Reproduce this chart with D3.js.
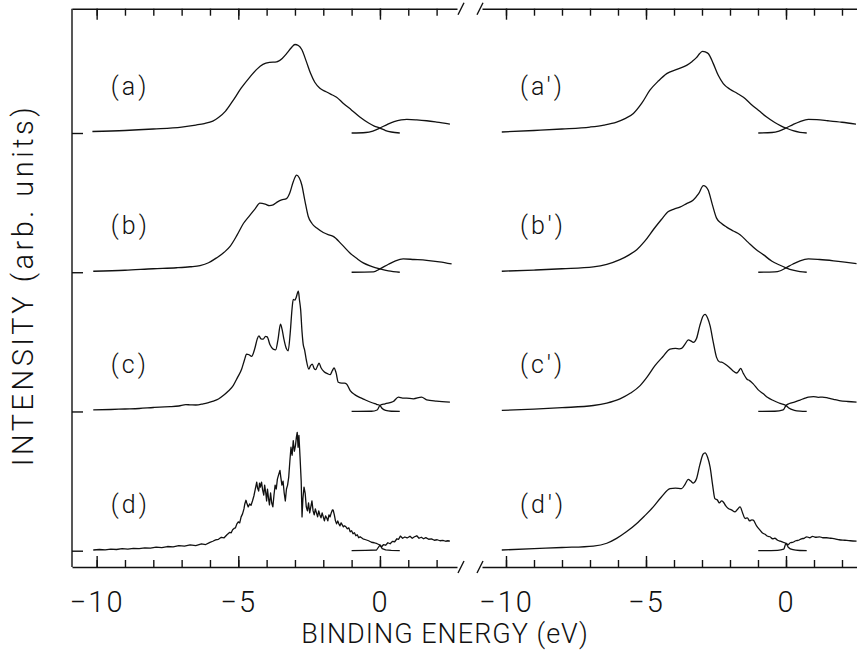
<!DOCTYPE html>
<html><head><meta charset="utf-8">
<script src="https://cdn.jsdelivr.net/npm/d3@7"></script>
<style>
body{margin:0;background:#fff;}
svg{display:block;}
text{font-family:Roboto,"Liberation Sans",sans-serif;font-weight:300;fill:#111;}
</style></head><body>
<svg id="c" width="857" height="652"></svg>
<script>
// ---------- data ----------
const energyTicks = [-10,-9,-8,-7,-6,-5,-4,-3,-2,-1,0,1,2];
const majorTicks = [-10,-5,0];
const tickLabels = ["\u221210","\u22125","0"];
const leftLabels = ["(a)","(b)","(c)","(d)"];
const rightLabels = ["(a')","(b')","(c')","(d')"];
const offsets = [420,280,140,0];

// left panel: main (occupied) curves  [energy eV, intensity]
const a_main = [[-10.15,1.5],[-9,2.5],[-8,4],[-7,6],[-6.5,8],[-6.2,9.5],[-5.9,12],[-5.7,15.5],[-5.45,22],[-5.2,32],[-4.9,45],[-4.6,56],[-4.35,64],[-4.13,69],[-3.9,71],[-3.65,71.5],[-3.45,75],[-3.29,80],[-3.12,86],[-3.0,89],[-2.88,88],[-2.76,84],[-2.6,72],[-2.45,60],[-2.3,51],[-2.12,45],[-1.9,41.5],[-1.7,38.5],[-1.53,36],[-1.3,30],[-1.0,23],[-0.71,16],[-0.4,10],[-0.2,7],[0,5],[0.2,2.5],[0.4,1],[0.7,0]];
const a_edge = [[-1.0,0],[-0.5,0.5],[-0.25,2],[0,5],[0.25,8.5],[0.5,11.5],[0.75,13.2],[0.95,13.7],[1.3,13.2],[1.65,12.3],[2.0,11],[2.47,9]];

const b_main = [[-10.12,1],[-9,2],[-8,3.5],[-7.18,4.5],[-6.7,5.5],[-6.35,6.7],[-6.05,9.5],[-5.77,14.4],[-5.5,20],[-5.29,26],[-5.05,37],[-4.82,49],[-4.6,57],[-4.4,64],[-4.24,69.4],[-4.05,68.5],[-3.9,67],[-3.77,67.7],[-3.6,71],[-3.47,72.7],[-3.3,74],[-3.18,80],[-3.06,91],[-2.94,97.7],[-2.85,95],[-2.76,88],[-2.65,72],[-2.53,56],[-2.4,49],[-2.23,44.4],[-2.0,40],[-1.8,37.5],[-1.65,36],[-1.35,28],[-1.06,19.4],[-0.8,13.5],[-0.59,9.4],[-0.3,6],[0,3.4],[0.3,1.3],[0.7,0]];
const b_edge = [[-1,0],[-0.23,0.3],[0,3.4],[0.3,8],[0.55,11.5],[0.82,13.4],[1.2,12.8],[1.65,12],[2.1,10.5],[2.53,8.4]];

const c_main = [[-10.12,1.5],[-9.5,2],[-9,2.5],[-8.5,3],[-8,4],[-7.77,4.4],[-7.4,4.8],[-7.1,5.5],[-6.85,6.8],[-6.71,6.7],[-6.5,6.5],[-6.24,7.7],[-6.05,9],[-5.88,10.4],[-5.7,12.5],[-5.53,16],[-5.35,20.5],[-5.18,26],[-5.03,34],[-4.88,42.7],[-4.78,52],[-4.71,57.7],[-4.62,57],[-4.53,55.4],[-4.42,63],[-4.33,73],[-4.27,76],[-4.2,73],[-4.12,72.7],[-4.04,75.5],[-3.98,75],[-3.88,67],[-3.77,62.7],[-3.68,62],[-3.6,72],[-3.51,87.7],[-3.45,82],[-3.39,72.7],[-3.3,63],[-3.24,61],[-3.17,78],[-3.1,104],[-3.06,112.7],[-3.0,112],[-2.96,114.4],[-2.88,121],[-2.84,112],[-2.8,102.7],[-2.75,80],[-2.71,67.7],[-2.66,62],[-2.6,52],[-2.51,42.7],[-2.45,46],[-2.39,47.7],[-2.32,43],[-2.27,42],[-2.2,46],[-2.15,48.7],[-2.08,44],[-1.97,40],[-1.85,38],[-1.76,37],[-1.68,41],[-1.62,43.7],[-1.55,39],[-1.47,29.4],[-1.35,28.5],[-1.25,28.5],[-1.18,27.7],[-1.05,21],[-0.88,16.7],[-0.7,14],[-0.58,12.5],[-0.47,11],[-0.3,9],[-0.12,7.2],[0,6],[0.08,3],[0.2,1],[0.4,0.2],[0.7,0]];
const c_edge = [[-1,0],[-0.3,0.2],[-0.1,1.5],[0,6],[0.18,7.7],[0.47,10],[0.65,14.4],[0.8,13.5],[0.94,13.4],[1.18,12.7],[1.47,14.4],[1.65,11.7],[2.0,10.4],[2.47,9.4]];

const d_main = [[-10.12,0.7],[-9.9,1.2],[-9.7,0.8],[-9.5,1.5],[-9.3,1.2],[-9.1,2],[-8.9,1.6],[-8.7,2.4],[-8.5,2.0],[-8.3,2.8],[-8.1,2.5],[-7.9,3.5],[-7.7,3.1],[-7.5,4.2],[-7.3,3.8],[-7.1,5.2],[-6.9,4.6],[-6.7,5.8],[-6.5,5.2],[-6.3,6.8],[-6.15,6.2],[-6.0,8.4],[-5.9,9.5],[-5.8,10.8],[-5.7,11.5],[-5.6,13.5],[-5.5,13],[-5.4,16],[-5.3,18.5],[-5.25,18],[-5.2,21],[-5.15,22.4],[-5.1,23],[-5.05,27],[-5.0,29],[-4.95,28],[-4.9,34],[-4.85,37],[-4.8,42],[-4.77,47],[-4.73,50.7],[-4.7,48],[-4.65,44],[-4.6,47],[-4.55,45.7],[-4.5,50],[-4.45,55],[-4.4,62],[-4.35,69],[-4.32,63],[-4.28,60],[-4.25,68],[-4.22,64],[-4.18,69],[-4.14,61],[-4.1,56],[-4.07,66],[-4.03,58],[-4.0,50],[-3.97,62],[-3.93,52],[-3.9,46],[-3.86,58],[-3.82,48],[-3.78,44],[-3.74,56],[-3.7,66],[-3.66,62],[-3.62,72],[-3.58,76],[-3.53,80.7],[-3.5,74],[-3.46,66],[-3.42,70],[-3.38,58],[-3.34,50],[-3.3,62],[-3.26,66],[-3.22,74],[-3.18,90],[-3.14,104],[-3.1,96],[-3.06,110.7],[-3.02,100],[-2.98,106],[-2.95,114],[-2.92,119],[-2.89,104],[-2.86,116],[-2.82,94],[-2.78,70],[-2.75,34],[-2.72,52],[-2.68,64],[-2.64,58],[-2.6,44],[-2.56,40],[-2.52,48],[-2.48,38],[-2.44,44],[-2.4,50],[-2.36,40],[-2.32,36],[-2.28,42],[-2.24,38],[-2.2,34],[-2.16,40],[-2.12,36],[-2.08,33],[-2.04,38],[-2.0,34],[-1.96,30],[-1.92,35],[-1.88,33],[-1.84,30],[-1.8,36],[-1.76,34],[-1.72,38],[-1.68,41],[-1.65,40.7],[-1.61,36],[-1.57,30],[-1.53,27],[-1.49,30],[-1.45,27],[-1.41,25],[-1.37,28],[-1.33,26],[-1.29,24],[-1.25,25],[-1.2,24],[-1.15,22],[-1.1,23],[-1.05,19],[-1.0,20],[-0.95,17],[-0.9,18],[-0.85,15],[-0.8,16],[-0.75,13],[-0.7,14],[-0.6,12],[-0.5,11],[-0.4,10],[-0.3,8.5],[-0.2,8],[-0.1,7],[0,5.7],[0.08,2],[0.2,0.8],[0.4,0.3],[0.7,0]];
const d_edge = [[-1,0],[-0.5,0.3],[-0.12,0.7],[0,5.7],[0.06,4],[0.12,6],[0.2,5.5],[0.28,8],[0.36,7],[0.44,9.4],[0.52,9],[0.6,12],[0.66,11.5],[0.72,14.7],[0.8,12.5],[0.88,13.8],[0.96,12.8],[1.06,14.5],[1.14,12.5],[1.22,14],[1.3,15],[1.38,12.5],[1.46,13.5],[1.54,12],[1.62,13.2],[1.72,11.5],[1.82,11.8],[1.92,10.5],[2.02,11],[2.12,10],[2.22,10.4],[2.32,9.5],[2.4,10],[2.47,9.7]];

// right panel
const ap_main = [[-10.15,1],[-9,2.5],[-8,4],[-7,6],[-6.5,8],[-6.05,11],[-5.75,14.5],[-5.45,19.7],[-5.15,30],[-4.86,43],[-4.55,52.5],[-4.26,59.7],[-3.9,64],[-3.55,68],[-3.35,72],[-3.19,76],[-3.08,80],[-2.98,82],[-2.88,81.5],[-2.77,79.7],[-2.6,70],[-2.42,58],[-2.24,49.7],[-2.0,44],[-1.75,40],[-1.52,36],[-1.25,29],[-0.95,22],[-0.69,16],[-0.4,10.5],[-0.2,7.5],[0,5],[0.25,2.3],[0.5,0.7],[0.74,0]];
const ap_edge = [[-0.99,0],[-0.5,0.5],[-0.25,2],[0,5],[0.25,8.5],[0.5,11.5],[0.8,13.7],[1.1,13.4],[1.5,12.3],[2.0,10.8],[2.5,9]];

const bp_main = [[-10.15,1],[-9,2.2],[-8,3.5],[-6.88,5.4],[-6.4,8],[-5.93,12.7],[-5.6,17.5],[-5.33,22.7],[-5.05,31],[-4.74,42.7],[-4.45,53],[-4.2,61],[-4.0,63.5],[-3.79,65.4],[-3.55,69],[-3.31,72.7],[-3.12,79],[-2.95,87],[-2.86,86],[-2.78,82.7],[-2.63,68],[-2.48,54.4],[-2.3,49],[-2.12,45.4],[-1.88,41.5],[-1.64,37.7],[-1.35,30],[-1.08,23],[-0.81,17.7],[-0.5,11],[-0.25,7.5],[0,4.4],[0.25,2],[0.5,0.6],[0.74,0]];
const bp_edge = [[-0.99,0],[-0.4,0.3],[-0.2,1.5],[0,4.4],[0.25,8.3],[0.5,11.5],[0.8,13.4],[1.2,12.8],[1.7,11.5],[2.1,10.2],[2.52,8.7]];

const cp_main = [[-10.15,1],[-9,2.3],[-8,3.8],[-6.88,6],[-6.4,8.5],[-5.93,12.7],[-5.55,18.5],[-5.21,26],[-4.95,35],[-4.68,46],[-4.4,55],[-4.14,62.7],[-3.95,63.5],[-3.8,63],[-3.73,63.4],[-3.6,68],[-3.49,72],[-3.4,71],[-3.31,69.4],[-3.2,73],[-3.08,86],[-2.96,96],[-2.89,97.7],[-2.8,94],[-2.71,86],[-2.6,70],[-2.48,54.4],[-2.38,50],[-2.3,49.5],[-2.18,47.7],[-2.05,45],[-1.9,41],[-1.76,38.7],[-1.68,41],[-1.62,43.4],[-1.52,38],[-1.4,32.7],[-1.3,31],[-1.17,27.7],[-1.0,22],[-0.81,17.7],[-0.65,14],[-0.45,11],[-0.25,8.5],[0,6],[0.1,3.5],[0.3,1.2],[0.5,0.3],[0.74,0]];
const cp_edge = [[-0.99,0],[-0.4,0.2],[-0.1,1.5],[0,6],[0.12,8],[0.3,9.5],[0.5,11.5],[0.68,13.4],[0.8,14.5],[0.98,15],[1.15,14.2],[1.3,14.5],[1.51,13.4],[1.7,12.2],[1.9,11],[2.2,10],[2.52,9.4]];

const dp_main = [[-10.15,0.7],[-9,2],[-8,3.2],[-6.88,4.7],[-6.4,7.5],[-6.05,12.4],[-5.7,19],[-5.33,27.4],[-5.05,35],[-4.74,44],[-4.45,54],[-4.14,62.4],[-3.95,63],[-3.73,62.4],[-3.6,67],[-3.49,71.7],[-3.4,70],[-3.31,68],[-3.2,72],[-3.08,86],[-2.96,97],[-2.89,98.4],[-2.8,94],[-2.71,84],[-2.62,66],[-2.54,52.4],[-2.45,51],[-2.38,48],[-2.3,50],[-2.24,49],[-2.15,45],[-2.06,42.4],[-1.95,41],[-1.82,39],[-1.72,42],[-1.64,44],[-1.55,38],[-1.46,32.4],[-1.38,33],[-1.3,30],[-1.22,31],[-1.17,30.7],[-1.05,25],[-0.93,20.7],[-0.85,18],[-0.75,16.5],[-0.65,14.5],[-0.57,14],[-0.48,12],[-0.4,12.5],[-0.3,10.5],[-0.21,9.7],[-0.1,8.5],[0,7.4],[0.08,3.5],[0.25,1],[0.5,0.2],[0.74,0]];
const dp_edge = [[-0.99,0],[-0.3,0.3],[-0.08,1.5],[0,7.4],[0.08,6],[0.15,8],[0.25,8.5],[0.35,10],[0.45,10.5],[0.55,12],[0.65,12.5],[0.74,14],[0.85,13],[0.95,14.5],[1.05,13.5],[1.2,14],[1.32,13],[1.45,13],[1.6,12.5],[1.75,12],[1.9,11],[2.1,10.5],[2.3,10],[2.52,9.7]];

const leftSpectra  = [[a_main,a_edge],[b_main,b_edge],[c_main,c_edge],[d_main,d_edge]];
const rightSpectra = [[ap_main,ap_edge],[bp_main,bp_edge],[cp_main,cp_edge],[dp_main,dp_edge]];

// ---------- layout ----------
const svg = d3.select("#c");
const topY = 8.7, botY = 567;
const xL = d3.scaleLinear().domain([-10.87, 2.72]).range([72, 457]);
const xR = d3.scaleLinear().domain([-10.857, 2.536]).range([482, 857]);
const y = d3.scaleLinear().domain([0, 420]).range([550.7, 133]);

function styleAxis(g){
  g.attr("font-family",null).attr("font-size",null);
  g.selectAll("path,line").attr("stroke","#111").attr("stroke-width",1.4);
}

function xAxes(x){
  svg.append("g").attr("transform",`translate(0,${topY})`)
    .call(d3.axisBottom(x).tickValues(energyTicks).tickSize(7).tickSizeOuter(0).tickFormat(""))
    .call(styleAxis);
  svg.append("g").attr("transform",`translate(0,${topY})`)
    .call(d3.axisBottom(x).tickValues(majorTicks).tickSize(11).tickSizeOuter(0).tickFormat(""))
    .call(styleAxis).call(g=>g.select(".domain").remove());
  svg.append("g").attr("transform",`translate(0,${botY})`)
    .call(d3.axisTop(x).tickValues(energyTicks).tickSize(7).tickSizeOuter(0).tickFormat(""))
    .call(styleAxis);
  svg.append("g").attr("transform",`translate(0,${botY})`)
    .call(d3.axisTop(x).tickValues(majorTicks).tickSize(11).tickSizeOuter(0).tickFormat(""))
    .call(styleAxis).call(g=>g.select(".domain").remove());
  const lab = svg.append("g").attr("transform",`translate(0,${botY})`)
    .call(d3.axisBottom(x).tickValues(majorTicks).tickSize(0).tickPadding(24).tickFormat((d,i)=>tickLabels[i]))
    .call(styleAxis).call(g=>g.select(".domain").remove());
  lab.selectAll("text").attr("font-size",29).attr("letter-spacing",2).attr("fill","#111");
}
xAxes(xL);
xAxes(xR);

// left vertical axis with ticks at spectrum baselines
svg.append("g").attr("transform",`translate(${xL.range()[0]},0)`)
  .call(d3.axisRight(y).tickValues(offsets).tickSize(11).tickSizeOuter(0).tickFormat(""))
  .call(styleAxis).call(g=>g.select(".domain").remove());
svg.append("line").attr("x1",xL.range()[0]).attr("x2",xL.range()[0])
  .attr("y1",topY).attr("y2",botY).attr("stroke","#111").attr("stroke-width",1.4);

// axis break marks
[461, 480].forEach(bx=>{
  [topY, botY].forEach(by=>{
    svg.append("line").attr("x1",bx-3).attr("y1",by+6).attr("x2",bx+3).attr("y2",by-6)
      .attr("stroke","#111").attr("stroke-width",1.4);
  });
});

// spectra
function drawPanel(x, spectra, labels){
  spectra.forEach((pair,i)=>{
    const off = offsets[i];
    const noisy = (i===3 && x===xL);
    const line = d3.line().x(d=>x(d[0])).y(d=>y(d[1]+off))
      .curve(noisy ? d3.curveLinear : d3.curveMonotoneX);
    pair.forEach(ser=>{
      svg.append("path").attr("d",line(ser)).attr("fill","none")
        .attr("stroke","#111").attr("stroke-width",1.3).attr("stroke-linejoin","round");
    });
    svg.append("text").attr("x",x(-9.5)).attr("y",y(off)-38)
      .attr("font-size",25).attr("letter-spacing",3).text(labels[i]);
  });
}
drawPanel(xL, leftSpectra, leftLabels);
drawPanel(xR, rightSpectra, rightLabels);

// axis titles
svg.append("text").attr("x",445).attr("y",643).attr("text-anchor","middle")
  .attr("font-size",27).attr("letter-spacing",1).text("BINDING ENERGY (eV)");
svg.append("text").attr("transform","translate(33,285) rotate(-90)").attr("text-anchor","middle")
  .attr("font-size",29).attr("letter-spacing",3.5).text("INTENSITY (arb. units)");
</script></body></html>
